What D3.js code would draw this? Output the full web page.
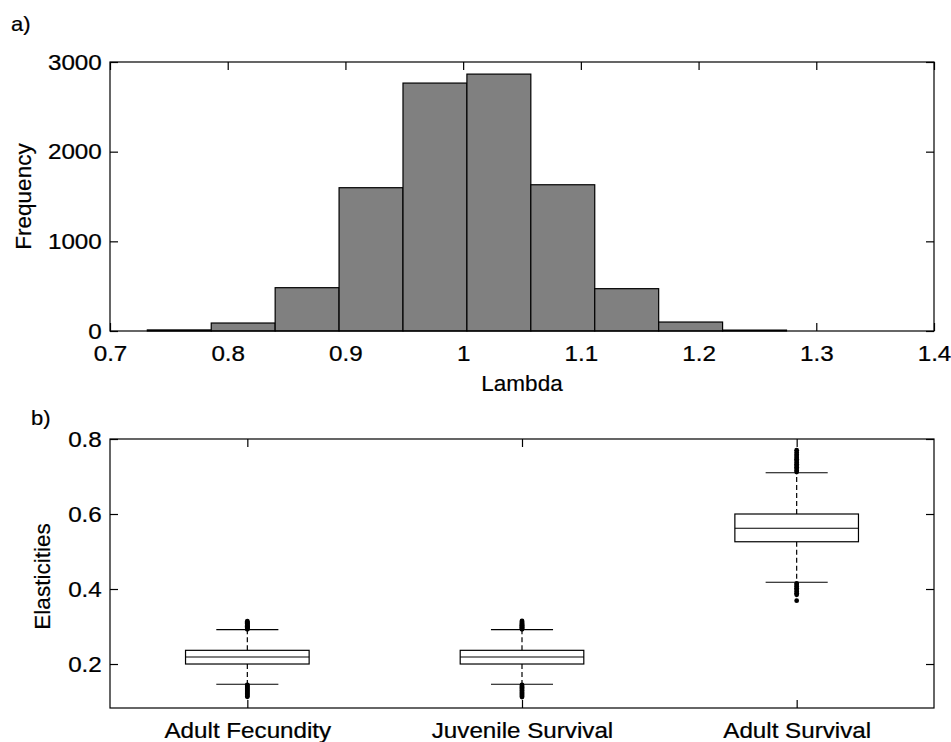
<!DOCTYPE html>
<html>
<head>
<meta charset="utf-8">
<script src="https://cdn.jsdelivr.net/npm/d3@7"></script>
<style>
  html, body { margin: 0; padding: 0; background: #fff; }
  svg { display: block; font-family: "Liberation Sans", Arial, Helvetica, sans-serif; }
</style>
</head>
<body>
<svg id="chart" width="951" height="742"></svg>
<script>
// ---------- Data: panel a (histogram of lambda) ----------
const binEdges = [0.7317, 0.7860, 0.8403, 0.8946, 0.9489, 1.0032, 1.0575, 1.1118, 1.1661, 1.2204, 1.2747];
const binCounts = [12, 89, 483, 1598, 2765, 2865, 1631, 472, 100, 10];
const histXTicks = [0.7, 0.8, 0.9, 1.0, 1.1, 1.2, 1.3, 1.4];
const histYTicks = [0, 1000, 2000, 3000];

// ---------- Data: panel b (boxplots of elasticities) ----------
const categories = ["Adult Fecundity", "Juvenile Survival", "Adult Survival"];
const q1 = [0.200, 0.200, 0.526];
const medians = [0.2187, 0.2187, 0.562];
const q3 = [0.2365, 0.2365, 0.600];
const whiskerLow = [0.146, 0.146, 0.418];
const whiskerHigh = [0.2915, 0.2915, 0.710];
const outliersHigh = [
  [0.2925, 0.2940, 0.2960, 0.2975, 0.2995, 0.3010, 0.3030, 0.3050, 0.3070, 0.3090, 0.3115, 0.3140],
  [0.2925, 0.2945, 0.2960, 0.2980, 0.3000, 0.3015, 0.3035, 0.3055, 0.3075, 0.3095, 0.3120, 0.3150],
  [0.7120, 0.7160, 0.7205, 0.7250, 0.7290, 0.7330, 0.7375, 0.7420, 0.7460, 0.7500, 0.7545, 0.7590, 0.7640, 0.7700]
];
const outliersLow = [
  [0.1445, 0.1420, 0.1395, 0.1370, 0.1340, 0.1315, 0.1290, 0.1260, 0.1235, 0.1205, 0.1180, 0.1150, 0.1125],
  [0.1445, 0.1415, 0.1390, 0.1365, 0.1340, 0.1310, 0.1285, 0.1255, 0.1230, 0.1200, 0.1175, 0.1145, 0.1120],
  [0.4150, 0.4110, 0.4065, 0.4020, 0.3980, 0.3935, 0.3890, 0.3845, 0.3690]
];
const boxYTicks = [0.2, 0.4, 0.6, 0.8];

// ---------- Layout ----------
const svg = d3.select("#chart");
const FONT_TICK = 22, STRETCH = "scale(1.1,1)";
const FONT_LABEL = 22.5;
const left = 110, right = 934;
const topA = 62, botA = 331;
const topB = 439, botB = 708;
const TICK = 8;

function frame(y0, y1) {
  svg.append("rect").attr("x", left).attr("y", y0).attr("width", right - left).attr("height", y1 - y0)
    .attr("fill", "none").attr("stroke", "#000").attr("stroke-width", 1.2);
}
function styleAxis(g, labels) {
  g.select(".domain").remove();
  g.selectAll(".tick line").attr("stroke", "#000").attr("stroke-width", 1.2);
  if (labels) {
    g.selectAll(".tick text").attr("fill", "#000").attr("font-size", FONT_TICK)
      .attr("stroke", "#000").attr("stroke-width", 0.25)
      .attr("font-family", "Liberation Sans, Arial, sans-serif").attr("transform", STRETCH);
  } else {
    g.selectAll(".tick text").remove();
  }
}
function label(sel) {
  return sel.attr("font-size", FONT_LABEL).attr("fill", "#000").attr("stroke", "#000").attr("stroke-width", 0.2);
}
function panelTag(x, y, t) {
  svg.append("text").attr("transform", `translate(${x},${y}) scale(1.1,1)`)
    .attr("font-size", 20).attr("fill", "#000").attr("stroke", "#000").attr("stroke-width", 0.2).text(t);
}

// ---------- Panel a ----------
const xA = d3.scaleLinear().domain([0.7, 1.4]).range([left, right]);
const yA = d3.scaleLinear().domain([0, 3000]).range([botA, topA]);

const fmtX = d => (d === 1 ? "1" : d3.format(".1f")(d));
svg.append("g").attr("transform", `translate(0,${botA})`)
  .call(d3.axisBottom(xA).tickValues(histXTicks).tickFormat(fmtX).tickSizeInner(-TICK).tickSizeOuter(0).tickPadding(14))
  .call(g => styleAxis(g, true));
svg.append("g").attr("transform", `translate(0,${topA})`)
  .call(d3.axisTop(xA).tickValues(histXTicks).tickSizeInner(-TICK).tickSizeOuter(0))
  .call(g => styleAxis(g, false));
svg.append("g").attr("transform", `translate(${left},0)`)
  .call(d3.axisLeft(yA).tickValues(histYTicks).tickFormat(d3.format("d")).tickSizeInner(-TICK).tickSizeOuter(0).tickPadding(7.5))
  .call(g => styleAxis(g, true));
svg.append("g").attr("transform", `translate(${right},0)`)
  .call(d3.axisRight(yA).tickValues(histYTicks).tickSizeInner(-TICK).tickSizeOuter(0))
  .call(g => styleAxis(g, false));

// bars drawn over the tick marks (as in the reference)
svg.append("g").selectAll("rect").data(binCounts).join("rect")
  .attr("x", (d, i) => xA(binEdges[i]))
  .attr("width", (d, i) => xA(binEdges[i + 1]) - xA(binEdges[i]))
  .attr("y", d => yA(d))
  .attr("height", d => yA(0) - yA(d))
  .attr("fill", "#808080").attr("stroke", "#000").attr("stroke-width", 1.2);

frame(topA, botA);

panelTag(11, 31, "a)");
label(svg.append("text").attr("x", (left + right) / 2).attr("y", 391).attr("text-anchor", "middle")).text("Lambda");
label(svg.append("text").attr("transform", `translate(31,${(topA + botA) / 2}) rotate(-90)`)
  .attr("text-anchor", "middle")).text("Frequency");

// ---------- Panel b ----------
const xB = d3.scalePoint().domain(categories).range([left, right]).padding(0.5);
const yB = d3.scaleLinear().domain([0.0827, 0.8]).range([botB, topB]);
const step = xB.step();
const boxHalf = step * 0.225, capHalf = step * 0.113;

frame(topB, botB);

svg.append("g").attr("transform", `translate(0,${botB})`)
  .call(d3.axisBottom(xB).tickSizeInner(-TICK).tickSizeOuter(0).tickPadding(14))
  .call(g => styleAxis(g, true));
svg.append("g").attr("transform", `translate(0,${topB})`)
  .call(d3.axisTop(xB).tickSizeInner(-TICK).tickSizeOuter(0))
  .call(g => styleAxis(g, false));
svg.append("g").attr("transform", `translate(${left},0)`)
  .call(d3.axisLeft(yB).tickValues(boxYTicks).tickFormat(d3.format(".1f")).tickSizeInner(-TICK).tickSizeOuter(0).tickPadding(7.5))
  .call(g => styleAxis(g, true));
svg.append("g").attr("transform", `translate(${right},0)`)
  .call(d3.axisRight(yB).tickValues(boxYTicks).tickSizeInner(-TICK).tickSizeOuter(0))
  .call(g => styleAxis(g, false));

const boxes = svg.append("g").selectAll("g").data(categories).join("g");
boxes.each(function (c, i) {
  const g = d3.select(this);
  const cx = xB(c);
  g.append("line").attr("x1", cx).attr("x2", cx).attr("y1", yB(q3[i])).attr("y2", yB(whiskerHigh[i]))
    .attr("stroke", "#000").attr("stroke-width", 1.2).attr("stroke-dasharray", "5,3");
  g.append("line").attr("x1", cx).attr("x2", cx).attr("y1", yB(q1[i])).attr("y2", yB(whiskerLow[i]))
    .attr("stroke", "#000").attr("stroke-width", 1.2).attr("stroke-dasharray", "5,3");
  [whiskerHigh[i], whiskerLow[i]].forEach(v => {
    g.append("line").attr("x1", cx - capHalf).attr("x2", cx + capHalf).attr("y1", yB(v)).attr("y2", yB(v))
      .attr("stroke", "#000").attr("stroke-width", 1.2);
  });
  g.append("rect").attr("x", cx - boxHalf).attr("width", 2 * boxHalf)
    .attr("y", yB(q3[i])).attr("height", yB(q1[i]) - yB(q3[i]))
    .attr("fill", "#fff").attr("stroke", "#000").attr("stroke-width", 1.2);
  g.append("line").attr("x1", cx - boxHalf).attr("x2", cx + boxHalf).attr("y1", yB(medians[i])).attr("y2", yB(medians[i]))
    .attr("stroke", "#000").attr("stroke-width", 1.2);
  g.selectAll("circle.o").data(outliersHigh[i].concat(outliersLow[i])).join("circle")
    .attr("class", "o").attr("cx", cx).attr("cy", d => yB(d)).attr("r", 2.4).attr("fill", "#000");
});

panelTag(31, 425, "b)");
label(svg.append("text").attr("transform", `translate(50,${(topB + botB) / 2 + 3}) rotate(-90)`)
  .attr("text-anchor", "middle")).text("Elasticities");
</script>
</body>
</html>
